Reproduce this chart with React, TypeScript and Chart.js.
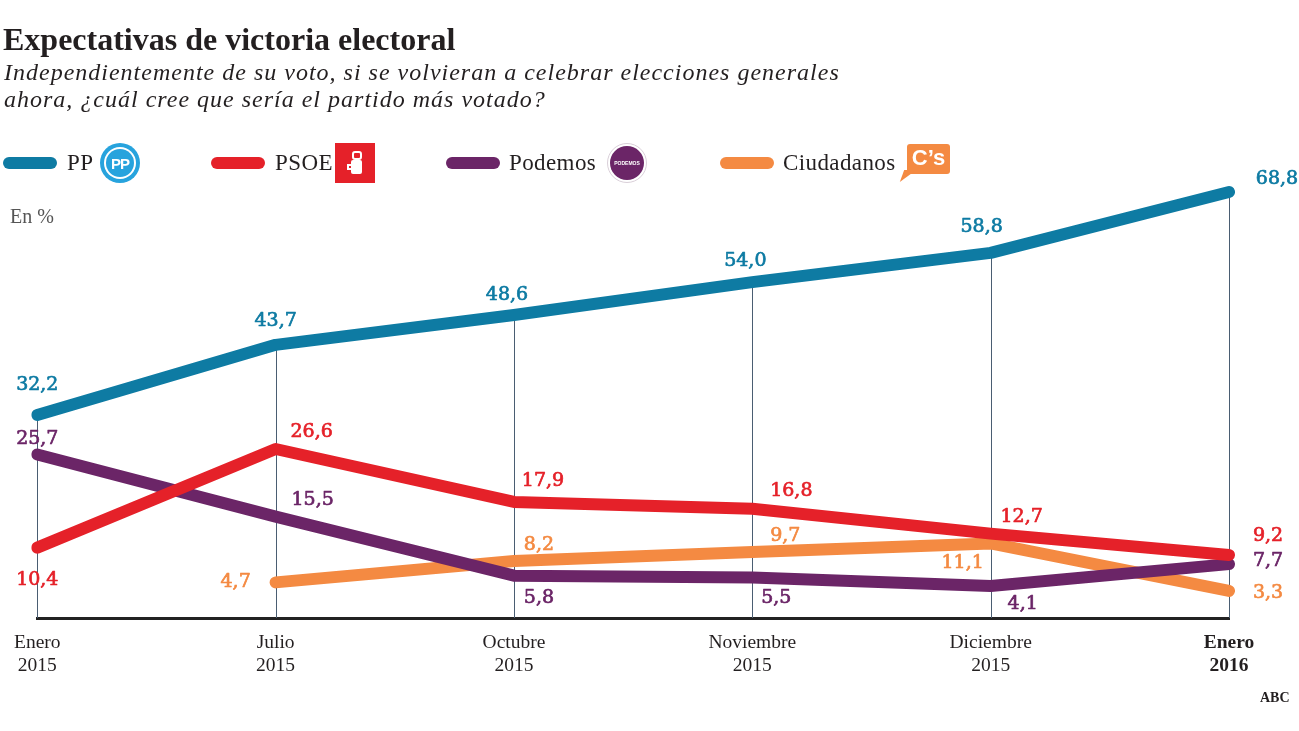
import React, { useEffect, useRef } from "react";
import { Chart, registerables } from "chart.js";

Chart.register(...registerables);

// ---------- data ----------
const categories = [
  ["Enero", "2015"],
  ["Julio", "2015"],
  ["Octubre", "2015"],
  ["Noviembre", "2015"],
  ["Diciembre", "2015"],
  ["Enero", "2016"],
];
const ppValues = [32.2, 43.7, 48.6, 54.0, 58.8, 68.8];
const psoeValues = [10.4, 26.6, 17.9, 16.8, 12.7, 9.2];
const podemosValues = [25.7, 15.5, 5.8, 5.5, 4.1, 7.7];
const ciudadanosValues = [null, 4.7, 8.2, 9.7, 11.1, 3.3];
const seriesNames = ["PP", "PSOE", "Podemos", "Ciudadanos"];

// ---------- styling ----------
const seriesColors = ["#0e7ba3", "#e52129", "#6b2567", "#f48a42"];
// value-label offsets (dx, dy) from each point, in px
const labelOffsets = [
  [[0, -30], [0, -24], [-7, -20], [-7, -21], [-9, -26], [48, -13]],
  [[0, 32], [36, -17], [29, -21], [39, -18], [31, -17], [39, -19]],
  [[0, -15], [37, -17], [25, 22], [24, 21], [32, 18], [39, -3]],
  [null, [-40, 0], [25, -16], [33, -16], [-28, 20], [39, 2]],
];

const fmt = (v: number) => v.toFixed(1).replace(".", ",");

const verticalsPlugin = {
  id: "verticals",
  beforeDatasetsDraw(chart: any) {
    const { ctx, chartArea, scales } = chart;
    const n = chart.data.labels.length;
    ctx.save();
    ctx.strokeStyle = "#4a5d72";
    ctx.lineWidth = 1;
    for (let i = 0; i < n; i++) {
      let max = -Infinity;
      chart.data.datasets.forEach((ds: any) => {
        const v = ds.data[i];
        if (v != null && v > max) max = v;
      });
      const x = Math.round(scales.x.getPixelForValue(i)) + 0.5;
      const yTop = scales.y.getPixelForValue(max);
      ctx.beginPath();
      ctx.moveTo(x, yTop);
      ctx.lineTo(x, chartArea.bottom);
      ctx.stroke();
    }
    ctx.restore();
  },
};

const valueLabelsPlugin = {
  id: "valueLabels",
  afterDatasetsDraw(chart: any) {
    const { ctx } = chart;
    ctx.save();
    ctx.font = '19px "DejaVu Serif"';
    ctx.textAlign = "center";
    ctx.textBaseline = "middle";
    ctx.lineWidth = 0.7;
    ctx.lineJoin = "round";
    chart.data.datasets.forEach((ds: any, di: number) => {
      const meta = chart.getDatasetMeta(di);
      meta.data.forEach((el: any, i: number) => {
        const v = ds.data[i];
        const off = labelOffsets[di][i];
        if (v == null || !off) return;
        ctx.fillStyle = seriesColors[di];
        ctx.strokeStyle = seriesColors[di];
        const t = fmt(v);
        ctx.fillText(t, el.x + off[0], el.y + off[1]);
        ctx.strokeText(t, el.x + off[0], el.y + off[1]);
      });
    });
    ctx.restore();
  },
};

const textColor = "#231f20";
const serif = '"Liberation Serif", serif';

function Swatch({ left, color }: { left: number; color: string }) {
  return (
    <div
      style={{
        position: "absolute",
        left,
        top: 157,
        width: 54,
        height: 12,
        borderRadius: 6,
        background: color,
      }}
    />
  );
}

function LegendText({ left, text }: { left: number; text: string }) {
  return (
    <div
      style={{
        position: "absolute",
        left,
        top: 151,
        fontFamily: serif,
        fontSize: 23,
        lineHeight: "23px",
        color: textColor,
        whiteSpace: "nowrap",
        letterSpacing: 0.4,
      }}
    >
      {text}
    </div>
  );
}

export default function App() {
  const canvasRef = useRef<HTMLCanvasElement | null>(null);

  useEffect(() => {
    document.body.style.margin = "0";
    const canvas = canvasRef.current;
    if (!canvas) return;
    const datasets = [ppValues, psoeValues, podemosValues, ciudadanosValues].map(
      (values, i) => ({
        label: seriesNames[i],
        data: values,
        borderColor: seriesColors[i],
        backgroundColor: seriesColors[i],
        borderWidth: 12,
        borderCapStyle: "round" as const,
        borderJoinStyle: "round" as const,
        pointRadius: 0,
        pointHoverRadius: 0,
        tension: 0,
        spanGaps: false,
        fill: false,
      })
    );
    const chart = new Chart(canvas, {
      type: "line",
      data: { labels: categories as any, datasets },
      options: {
        animation: false,
        responsive: false,
        devicePixelRatio: 1,
        events: [],
        layout: { padding: { left: 36, right: 70, top: 172.5, bottom: 0 } },
        plugins: {
          legend: { display: false },
          title: { display: false },
          tooltip: { enabled: false },
        },
        scales: {
          x: {
            type: "category",
            offset: false,
            grid: { display: false, drawTicks: false },
            border: { display: true, color: "#222222", width: 3 },
            ticks: {
              color: textColor,
              autoSkip: false,
              maxRotation: 0,
              padding: 14,
              font: (ctx: any) => ({
                family: "Liberation Serif",
                size: 19.5,
                weight: ctx.index === 5 ? "bold" : "normal",
                lineHeight: 1.15,
              }),
            },
            afterFit: (scale: any) => {
              scale.height = 113;
            },
          },
          y: {
            display: false,
            min: -1.15,
            max: 72,
          },
        },
      },
      plugins: [verticalsPlugin, valueLabelsPlugin],
    });
    return () => chart.destroy();
  }, []);

  return (
    <div
      style={{
        position: "absolute",
        left: 0,
        top: 0,
        width: 1299,
        height: 731,
        background: "#ffffff",
        overflow: "hidden",
      }}
    >
      <canvas
        ref={canvasRef}
        width={1299}
        height={731}
        style={{ position: "absolute", left: 0, top: 0, width: 1299, height: 731 }}
      />
      {/* Title */}
      <div
        style={{
          position: "absolute",
          left: 3,
          top: 23,
          fontFamily: serif,
          fontWeight: "bold",
          fontSize: 32,
          lineHeight: "32px",
          color: textColor,
          whiteSpace: "nowrap",
        }}
      >
        Expectativas de victoria electoral
      </div>
      {/* Subtitle */}
      <div
        style={{
          position: "absolute",
          left: 4,
          top: 59,
          fontFamily: serif,
          fontStyle: "italic",
          fontSize: 24,
          lineHeight: "27px",
          letterSpacing: 1,
          color: textColor,
          whiteSpace: "nowrap",
        }}
      >
        Independientemente de su voto, si se volvieran a celebrar elecciones generales
        <br />
        ahora, ¿cuál cree que sería el partido más votado?
      </div>

      {/* Legend */}
      <Swatch left={3} color={seriesColors[0]} />
      <LegendText left={67} text={seriesNames[0]} />
      {/* PP logo */}
      <div
        style={{
          position: "absolute",
          left: 100,
          top: 143,
          width: 40,
          height: 40,
          borderRadius: "50%",
          background: "#27a3dd",
        }}
      >
        <div
          style={{
            position: "absolute",
            left: 4,
            top: 4,
            width: 32,
            height: 32,
            borderRadius: "50%",
            background: "#ffffff",
          }}
        />
        <div
          style={{
            position: "absolute",
            left: 6,
            top: 6,
            width: 28,
            height: 28,
            borderRadius: "50%",
            background: "#27a3dd",
            color: "#ffffff",
            fontFamily: '"Liberation Sans", sans-serif',
            fontWeight: "bold",
            fontSize: 15,
            lineHeight: "30px",
            textAlign: "center",
            letterSpacing: -1,
          }}
        >
          PP
        </div>
      </div>

      <Swatch left={211} color={seriesColors[1]} />
      <LegendText left={275} text={seriesNames[1]} />
      {/* PSOE logo */}
      <div
        style={{
          position: "absolute",
          left: 335,
          top: 143,
          width: 40,
          height: 40,
          background: "#e52129",
        }}
      >
        <div style={{ position: "absolute", left: 17, top: 8, width: 10, height: 9, border: "2px solid #fff", borderRadius: 3, boxSizing: "border-box" }} />
        <div style={{ position: "absolute", left: 16, top: 17, width: 11, height: 14, background: "#fff", borderRadius: 2 }} />
        <div style={{ position: "absolute", left: 12, top: 21, width: 7, height: 6, border: "2px solid #fff", boxSizing: "border-box" }} />
      </div>

      <Swatch left={446} color={seriesColors[2]} />
      <LegendText left={509} text={seriesNames[2]} />
      {/* Podemos logo */}
      <div
        style={{
          position: "absolute",
          left: 607,
          top: 143,
          width: 40,
          height: 40,
          borderRadius: "50%",
          background: "#ffffff",
          border: "1px solid #d9cfd8",
          boxSizing: "border-box",
        }}
      >
        <div
          style={{
            position: "absolute",
            left: 2,
            top: 2,
            width: 34,
            height: 34,
            borderRadius: "50%",
            background: "#6b2567",
            color: "#ffffff",
            fontFamily: '"Liberation Sans", sans-serif',
            fontWeight: "bold",
            fontSize: 5,
            lineHeight: "34px",
            textAlign: "center",
          }}
        >
          PODEMOS
        </div>
      </div>

      <Swatch left={720} color={seriesColors[3]} />
      <LegendText left={783} text={seriesNames[3]} />
      {/* Ciudadanos logo */}
      <div
        style={{
          position: "absolute",
          left: 907,
          top: 144,
          width: 43,
          height: 30,
          borderRadius: 3,
          background: "#f48a42",
          color: "#ffffff",
          fontFamily: '"Liberation Sans", sans-serif',
          fontWeight: "bold",
          fontSize: 22,
          lineHeight: "28px",
          textAlign: "center",
        }}
      >
        C’s
      </div>
      <div
        style={{
          position: "absolute",
          left: 902,
          top: 170,
          width: 0,
          height: 0,
          borderLeft: "0px solid transparent",
          borderRight: "12px solid transparent",
          borderTop: "12px solid #f48a42",
          transform: "skewX(-20deg)",
        }}
      />

      {/* Unit */}
      <div
        style={{
          position: "absolute",
          left: 10,
          top: 206,
          fontFamily: serif,
          fontSize: 20,
          lineHeight: "20px",
          color: "#555555",
          whiteSpace: "nowrap",
        }}
      >
        En %
      </div>

      {/* Source */}
      <div
        style={{
          position: "absolute",
          left: 1260,
          top: 691,
          fontFamily: serif,
          fontWeight: "bold",
          fontSize: 14,
          lineHeight: "14px",
          color: textColor,
          whiteSpace: "nowrap",
        }}
      >
        ABC
      </div>
    </div>
  );
}
